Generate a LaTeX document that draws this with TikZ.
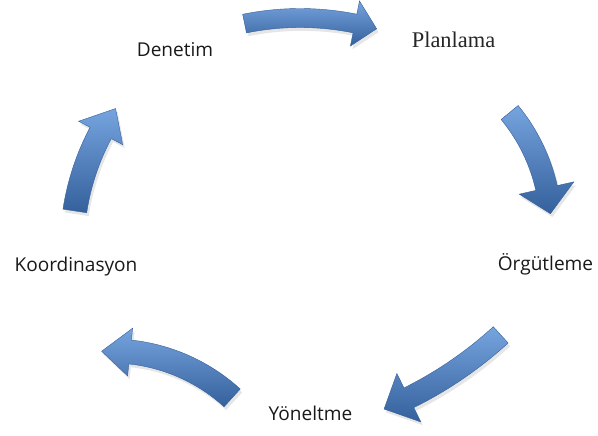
\documentclass[tikz,border=0pt]{standalone}
\usepackage{fontspec}
\setmainfont{Open Sans}
\newfontfamily\planfont{Liberation Serif}
\usetikzlibrary{shadows}

\definecolor{arrowlight}{RGB}{118,164,222}
\definecolor{arrowmid}{RGB}{79,129,192}
\definecolor{arrowdark}{RGB}{52,96,156}

% curved block arrow: cx, cy, radius, tail angle, head angle, tip angle, half width, half head width
\newcommand{\cyclearrow}[8]{%
  \path[cycarrow, shift={(#1,#2)}] (#4:{#3+#7}) arc[start angle=#4, end angle=#5, radius={#3+#7}]
    -- (#5:{#3+#8}) -- (#6:#3) -- (#5:{#3-#8}) -- (#5:{#3-#7})
    arc[start angle=#5, end angle=#4, radius={#3-#7}] -- cycle;}

\begin{document}
\begin{tikzpicture}[x=0.75pt, y=-0.75pt,
    cycarrow/.style={draw=arrowdark, line width=0.3pt, top color=arrowlight, middle color=arrowmid, bottom color=arrowdark,
      drop shadow={opacity=0.2, shadow xshift=1.5pt, shadow yshift=-2.5pt}},
    phase/.style={font=\fontsize{14.3}{17}\selectfont, text=black!90, inner sep=0pt, anchor=base}]
\useasboundingbox (0,0) rectangle (598,435);

% the five arrows of the cycle
\cyclearrow{300}{296}{278}{-101.5}{-78.6}{-74}{9.5}{23}
\cyclearrow{369}{228}{182}{-39.4}{-12.7}{-4.5}{11}{28}
\cyclearrow{231}{39.5}{400}{47.6}{63.6}{67.5}{11}{27}
\cyclearrow{111}{531}{180}{-47.7}{-83.9}{-93}{12}{24}
\cyclearrow{317}{248}{245}{188.7}{208}{214.7}{12}{25}

% labels
\node[phase] (denetim) at (175,56) {Denetim};
\node[phase, font=\planfont\fontsize{16.8}{20}\selectfont, text=black!85] (planlama) at (453.5,47) {Planlama};
\node[phase] (orgutleme) at (545.5,270.7) {Örgütleme};
\node[phase] (yoneltme) at (310.5,420) {Yöneltme};
\node[phase] (koordinasyon) at (76,271) {Koordinasyon};
\end{tikzpicture}
\end{document}
